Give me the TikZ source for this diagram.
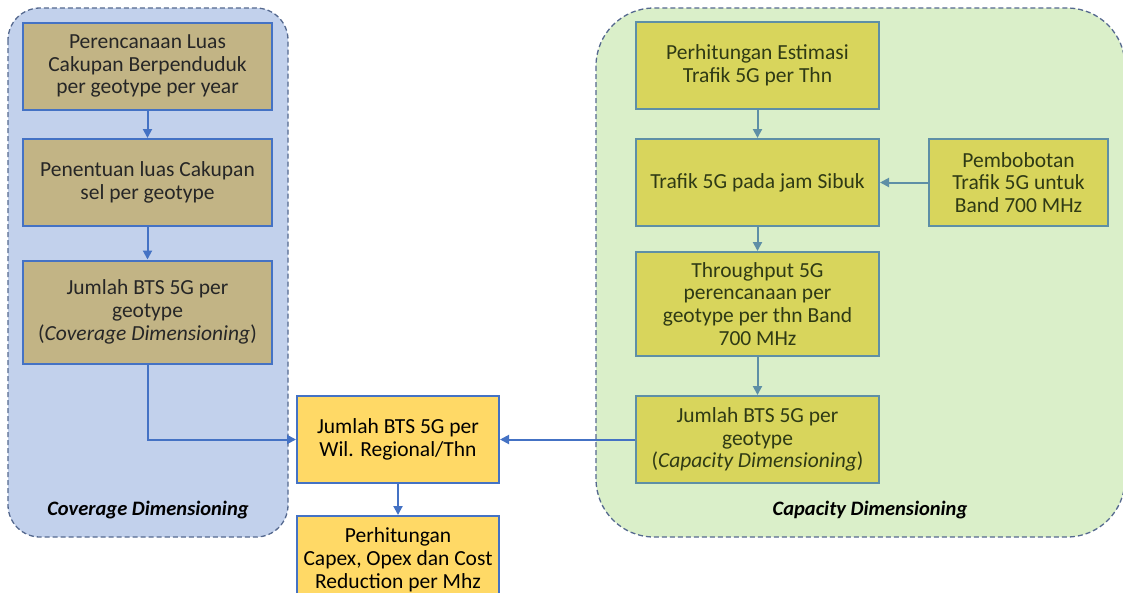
\documentclass[tikz,border=0pt]{standalone}
\usepackage{fontspec}
\setmainfont{Carlito}
\usetikzlibrary{arrows.meta,positioning}
\definecolor{covfill}{HTML}{C2D1EC}
\definecolor{capfill}{HTML}{DAEFC9}
\definecolor{contborder}{HTML}{55698F}
\definecolor{tanbox}{HTML}{C2B485}
\definecolor{olivebox}{HTML}{D8D55C}
\definecolor{yelbox}{HTML}{FFD966}
\definecolor{blueline}{HTML}{4472C4}
\definecolor{tealline}{HTML}{5E8FA6}
\definecolor{covtext}{HTML}{262626}
\definecolor{captext}{HTML}{2F3A15}
\tikzset{
  container/.style={draw=contborder, dash pattern=on 5pt off 3pt, line width=1.3pt},
  boxbase/.style={draw, line width=2pt, align=center, inner sep=2pt,
    font=\fontsize{21.5}{22.8}\selectfont},
  covbox/.style={boxbase, fill=tanbox, draw=blueline, text=covtext, minimum width=249pt},
  capbox/.style={boxbase, fill=olivebox, draw=tealline, text=captext, minimum width=243pt},
  sidebox/.style={boxbase, fill=olivebox, draw=tealline, text=captext, minimum width=179pt, minimum height=87pt},
  yelstyle/.style={boxbase, fill=yelbox, draw=blueline, text=black, minimum width=202pt},
  bluearrow/.style={draw=blueline, line width=2pt, -{Triangle[length=9pt,width=9pt]}},
  tealarrow/.style={draw=tealline, line width=2pt, -{Triangle[length=9pt,width=9pt]}},
  grouplabel/.style={font=\fontsize{20.5}{24}\selectfont\bfseries\itshape, text=black}
}
\begin{document}
\begin{tikzpicture}[x=1pt,y=-1pt]
\useasboundingbox (0,0) rectangle (1123,592);
% containers
\draw[container, fill=covfill, rounded corners=32pt] (8,8) rectangle (288,537);
\draw[container, fill=capfill, rounded corners=58pt] (596,8) rectangle (1125,537);
% coverage column
\node[covbox, minimum height=87pt] (c1) at (147.5,66) {Perencanaan Luas\\Cakupan Berpenduduk\\per geotype per year};
\node[covbox, minimum height=87pt] (c2) at (147.5,182.5) {Penentuan luas Cakupan\\sel per geotype};
\node[covbox, minimum height=103pt] (c3) at (147.5,312) {Jumlah BTS 5G per\\geotype\\(\textit{Coverage Dimensioning})};
% capacity column
\node[capbox, minimum height=87pt] (r1) at (757.5,65.5) {Perhitungan Estimasi\\Trafik 5G per Thn};
\node[capbox, minimum height=87pt] (r2) at (757.5,182.5) {Trafik 5G pada jam Sibuk};
\node[sidebox] (s1) at (1018.5,182.5) {Pembobotan\\Trafik 5G untuk\\Band 700 MHz};
\node[capbox, minimum height=104pt] (r3) at (757.5,304) {Throughput 5G\\perencanaan per\\geotype per thn Band\\700 MHz};
\node[capbox, minimum height=87pt] (r4) at (757.5,439.5) {Jumlah BTS 5G per\\geotype\\(\textit{Capacity Dimensioning})};
% middle
\node[yelstyle, minimum height=87pt] (m1) at (398,439.5) {Jumlah BTS 5G per\\Wil. Regional/Thn};
\node[yelstyle, minimum height=87pt, anchor=north] (m2) at (398,515) {Perhitungan\\Capex, Opex dan Cost\\Reduction per Mhz};
% labels
\node[grouplabel] (covlabel) at (148,510) {Coverage Dimensioning};
\node[grouplabel] (caplabel) at (870,510) {Capacity Dimensioning};
% arrows
\draw[bluearrow] (c1.south) -- (c2.north);
\draw[bluearrow] (c2.south) -- (c3.north);
\draw[bluearrow] (c3.south) |- (m1.west);
\draw[bluearrow] (m1.south) -- (m2.north);
\draw[tealarrow] (r1.south) -- (r2.north);
\draw[tealarrow] (r2.south) -- (r3.north);
\draw[tealarrow] (r3.south) -- (r4.north);
\draw[tealarrow] (s1.west) -- (r2.east);
\draw[bluearrow] (r4.west) -- (m1.east);
\end{tikzpicture}
\end{document}
